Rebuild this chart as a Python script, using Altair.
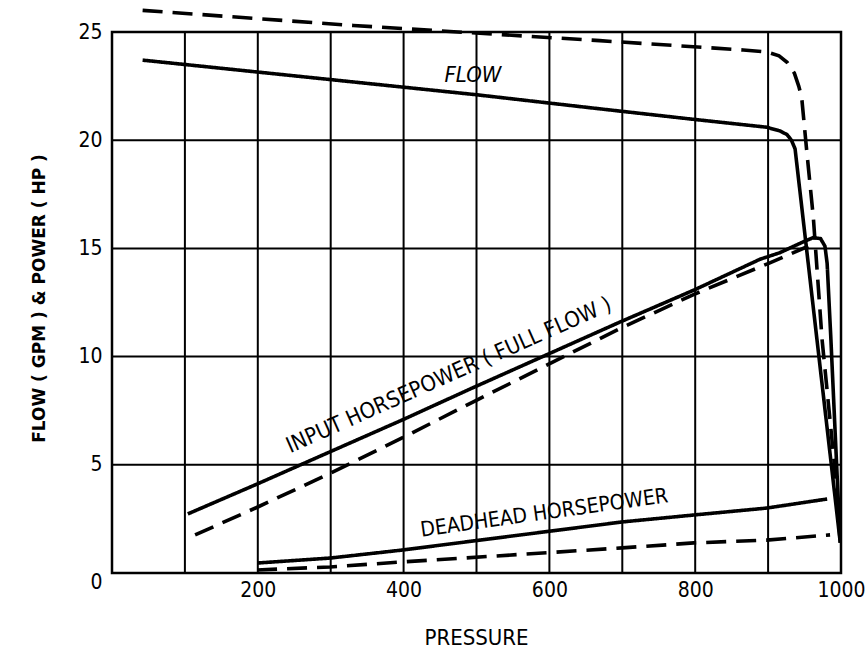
import altair as alt
import pandas as pd

# ---- data ----
flow_solid_p = [42, 300, 500, 669, 796, 898, 916, 926, 932, 937, 999]
flow_solid_v = [23.7, 22.8, 22.1, 21.45, 20.97, 20.6, 20.43, 20.26, 20.0, 19.6, 1.4]

flow_dash_p = [42, 331, 669, 866, 898, 915, 926, 936, 942, 946, 953, 962, 974, 991, 999]
flow_dash_v = [26.0, 25.3, 24.6, 24.17, 24.08, 23.9, 23.6, 23.1, 22.5, 22.0, 19.5, 16.45, 10.8, 5.0, 1.4]

hp_solid_p = [104, 199, 299, 398, 495, 697, 800, 889, 916, 948, 962, 972, 978, 981, 986, 994, 999]
hp_solid_v = [2.73, 4.11, 5.6, 7.07, 8.56, 11.6, 13.1, 14.5, 14.8, 15.3, 15.5, 15.45, 15.1, 14.3, 10.9, 5.0, 1.4]

hp_dash_p = [114, 200, 299, 398, 495, 697, 800, 900, 955]
hp_dash_v = [1.76, 3.05, 4.6, 6.24, 7.9, 11.3, 12.9, 14.3, 15.1]

dh_solid_p = [199, 299, 398, 700, 798, 898, 981]
dh_solid_v = [0.46, 0.69, 1.06, 2.36, 2.68, 3.0, 3.42]

dh_dash_p = [199, 299, 398, 700, 798, 898, 985]
dh_dash_v = [0.14, 0.28, 0.51, 1.16, 1.39, 1.52, 1.76]

x_grid = [100, 200, 300, 400, 500, 600, 700, 800, 900]
y_grid = [5, 10, 15, 20]
x_ticks = [200, 400, 600, 800, 1000]
y_ticks = [0, 5, 10, 15, 20, 25]

flow_label = ["FLOW"]
flow_label_p = [495]
flow_label_v = [23.0]

curve_labels = ["INPUT HORSEPOWER ( FULL FLOW )", "DEADHEAD HORSEPOWER"]
curve_label_p = [462, 593]
curve_label_v = [9.15, 2.75]
curve_label_angle = [336, 352]
curve_label_size = [22, 21]

# ---- build table ----
series = [
    ("flow_solid", "solid", flow_solid_p, flow_solid_v),
    ("flow_dash", "dashed", flow_dash_p, flow_dash_v),
    ("hp_solid", "solid", hp_solid_p, hp_solid_v),
    ("hp_dash", "dashed", hp_dash_p, hp_dash_v),
    ("dh_solid", "solid", dh_solid_p, dh_solid_v),
    ("dh_dash", "dashed", dh_dash_p, dh_dash_v),
]
rows = []
for name, style, ps, vs in series:
    for i, (p, v) in enumerate(zip(ps, vs)):
        rows.append({"series": name, "style": style, "idx": i, "pressure": p, "value": v})
df = pd.DataFrame(rows)

NARROW = "Liberation Sans Narrow, DejaVu Sans Condensed, sans-serif"

xscale = alt.Scale(domain=[0, 1000], nice=False, zero=False)
yscale = alt.Scale(domain=[0, 25], nice=False)

xaxis = alt.Axis(values=x_ticks, grid=False, ticks=False, domain=False, format="d",
                 labelFont=NARROW, labelFontSize=21, labelColor="black",
                 labelPadding=6, labelFlush=False,
                 title="PRESSURE", titleFont=NARROW, titleFontSize=22,
                 titleFontWeight="normal", titleColor="black",
                 titleX=364, titleY=64, titleBaseline="middle", titleAlign="center")
yaxis = alt.Axis(values=y_ticks, grid=False, ticks=False, domain=False, format="d",
                 labelFont=NARROW, labelFontSize=21, labelColor="black",
                 labelPadding=10, labelFlush=False,
                 labelOffset=alt.ExprRef(expr="datum.value == 0 ? 9 : 0"),
                 title="FLOW ( GPM ) & POWER ( HP )", titleFont="DejaVu Sans",
                 titleFontSize=17, titleFontWeight="bold", titleColor="black",
                 titleX=-73, titleY=266, titleAngle=270,
                 titleBaseline="middle", titleAlign="center")

lines = alt.Chart(df).mark_line(color="black", strokeWidth=3.6, clip=False).encode(
    x=alt.X("pressure:Q", scale=xscale, axis=xaxis, title="PRESSURE"),
    y=alt.Y("value:Q", scale=yscale, axis=yaxis, title="FLOW ( GPM ) & POWER ( HP )"),
    detail="series:N",
    order="idx:Q",
    strokeDash=alt.StrokeDash("style:N",
                              scale=alt.Scale(domain=["solid", "dashed"], range=[[1, 0], [20, 10]]),
                              legend=None),
)

xg = alt.Chart(pd.DataFrame({"g": x_grid})).mark_rule(color="black", strokeWidth=2).encode(
    x=alt.X("g:Q", scale=xscale, axis=xaxis, title="PRESSURE"))
yg = alt.Chart(pd.DataFrame({"g": y_grid})).mark_rule(color="black", strokeWidth=2).encode(
    y=alt.Y("g:Q", scale=yscale, axis=yaxis, title="FLOW ( GPM ) & POWER ( HP )"))

flow_df = pd.DataFrame({"text": flow_label, "p": flow_label_p, "v": flow_label_v})
flow_text = alt.Chart(flow_df).mark_text(font=NARROW, fontSize=22, fontStyle="italic",
                                         color="black", align="center", baseline="middle").encode(
    x=alt.X("p:Q", scale=xscale, axis=xaxis, title="PRESSURE"),
    y=alt.Y("v:Q", scale=yscale, axis=yaxis, title="FLOW ( GPM ) & POWER ( HP )"),
    text="text:N",
)

cl_df = pd.DataFrame({"text": curve_labels, "p": curve_label_p, "v": curve_label_v,
                      "angle": curve_label_angle, "size": curve_label_size})
curve_text = alt.Chart(cl_df).mark_text(font=NARROW, color="black",
                                        align="center", baseline="middle").encode(
    x=alt.X("p:Q", scale=xscale, axis=xaxis, title="PRESSURE"),
    y=alt.Y("v:Q", scale=yscale, axis=yaxis, title="FLOW ( GPM ) & POWER ( HP )"),
    text="text:N",
    angle=alt.Angle("angle:Q", scale=None),
    size=alt.Size("size:Q", scale=None, legend=None),
)

chart = alt.layer(xg, yg, lines, flow_text, curve_text).properties(
    width=729, height=541,
    autosize=alt.AutoSizeParams(type="none"),
    padding={"left": 112, "top": 32, "right": 24, "bottom": 78},
    background="white",
).configure_view(stroke="black", strokeWidth=2.5)

chart.save("out.html", embed_options={"renderer": "svg", "actions": False})
